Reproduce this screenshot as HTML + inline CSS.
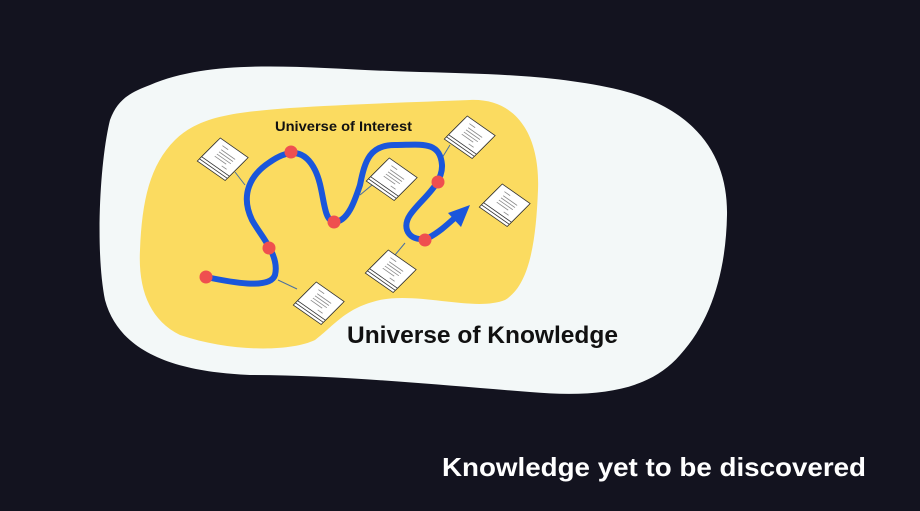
<!DOCTYPE html>
<html><head><meta charset="utf-8"><style>
html,body{margin:0;padding:0;background:#13131f;}
body{width:920px;height:511px;overflow:hidden;position:relative;font-family:"Liberation Sans",sans-serif;}
</style></head><body>
<svg width="920" height="511" viewBox="0 0 920 511" style="position:absolute;left:0;top:0">
<rect width="920" height="511" fill="#13131f"/>
<path d="M150,85 C220,55 320,70 420,72 C500,74 560,76 620,90 C700,110 728,160 727,215 C726,270 712,320 680,355 C650,390 600,398 530,392 C440,385 340,375 250,375 C180,372 120,355 105,300 C95,250 100,160 110,120 C118,98 132,92 150,85 Z" fill="#f3f8f8"/>
<path d="M175,140 C200,115 240,112 290,108 C350,104 420,102 470,100 C520,98 540,140 538,190 C536,240 530,285 505,300 C475,312 420,292 380,300 C345,308 335,325 315,340 C290,352 230,352 180,335 C150,320 138,290 140,250 C142,200 150,165 175,140 Z" fill="#fbdb60"/>
<g stroke="#4a6fa0" stroke-width="1" fill="none">
<line x1="245" y1="185" x2="235" y2="172"/><line x1="360" y1="195" x2="372" y2="185"/>
<line x1="442" y1="158" x2="450" y2="145"/><line x1="405" y1="243" x2="395" y2="255"/>
<line x1="278" y1="280" x2="297" y2="289"/>
</g>
<path d="M206,277 C230,282 270,290 275,275 C280,255 260,235 252,220 C240,195 250,175 270,162 C290,148 305,150 315,170 C325,190 322,220 334,222 C348,222 355,200 360,185 C365,160 370,145 395,145 C420,145 440,140 442,165 C443,185 420,200 410,215 C400,230 412,243 428,238 C440,232 450,222 458,215" stroke="#1a56db" stroke-width="6" fill="none" stroke-linecap="round"/>
<polygon points="470,205 448,213 461,227" fill="#1a56db"/>
<g fill="#ef4f4f">
<circle cx="206" cy="277" r="6.5"/><circle cx="269" cy="248" r="6.5"/><circle cx="291" cy="152" r="6.5"/>
<circle cx="334" cy="222" r="6.5"/><circle cx="438" cy="182" r="6.5"/><circle cx="425" cy="240" r="6.5"/>
</g>
<defs><g id="doc">
<rect x="-17" y="-11" width="34" height="26" fill="#fff" stroke="#333" stroke-width="0.8"/>
<rect x="-17" y="-14" width="34" height="26" fill="#fff" stroke="#333" stroke-width="0.8"/>
<rect x="-17" y="-17" width="34" height="26" fill="#fff" stroke="#333" stroke-width="0.8"/>
<g stroke="#888" stroke-width="0.8"><line x1="-10" y1="-12" x2="-3" y2="-12"/><line x1="-8" y1="-8" x2="9" y2="-8"/><line x1="-8" y1="-5" x2="9" y2="-5"/><line x1="-8" y1="-2" x2="9" y2="-2"/><line x1="-8" y1="1" x2="6" y2="1"/><line x1="4" y1="5" x2="10" y2="5"/></g>
</g></defs>
<g transform="translate(222,160) rotate(35) skewX(-10)"><use href="#doc"/></g>
<g transform="translate(391,180) rotate(35) skewX(-10)"><use href="#doc"/></g>
<g transform="translate(469,138) rotate(35) skewX(-10)"><use href="#doc"/></g>
<g transform="translate(504,206) rotate(35) skewX(-10)"><use href="#doc"/></g>
<g transform="translate(390,272) rotate(35) skewX(-10)"><use href="#doc"/></g>
<g transform="translate(318,304) rotate(35) skewX(-10)"><use href="#doc"/></g>
<text x="275" y="131" textLength="137" lengthAdjust="spacingAndGlyphs" font-family="Liberation Sans,sans-serif" font-weight="bold" font-size="13.5" fill="#111">Universe of Interest</text>
<text x="347" y="343" textLength="271" lengthAdjust="spacingAndGlyphs" font-family="Liberation Sans,sans-serif" font-weight="bold" font-size="24" fill="#111">Universe of Knowledge</text>
<text x="442" y="476" textLength="424" lengthAdjust="spacingAndGlyphs" font-family="Liberation Sans,sans-serif" font-weight="bold" font-size="26" fill="#fff">Knowledge yet to be discovered</text>
</svg>
</body></html>
